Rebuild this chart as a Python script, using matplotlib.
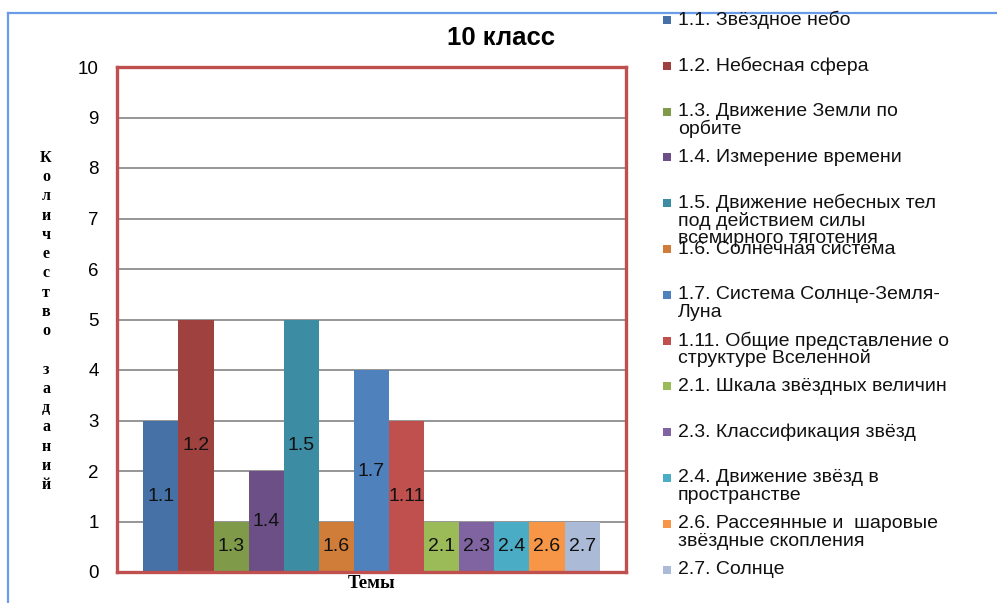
import matplotlib
matplotlib.use("Agg")
import matplotlib.pyplot as plt
from matplotlib.lines import Line2D
from matplotlib.patches import Rectangle

# ---- data ----
categories = ["1.1", "1.2", "1.3", "1.4", "1.5", "1.6", "1.7", "1.11",
              "2.1", "2.3", "2.4", "2.6", "2.7"]
values = [3, 5, 1, 2, 5, 1, 4, 3, 1, 1, 1, 1, 1]
legend_labels = [
    "1.1. Звёздное небо",
    "1.2. Небесная сфера",
    "1.3. Движение Земли по\nорбите",
    "1.4. Измерение времени",
    "1.5. Движение небесных тел\nпод действием силы\nвсемирного тяготения",
    "1.6. Солнечная система",
    "1.7. Система Солнце-Земля-\nЛуна",
    "1.11. Общие представление о\nструктуре Вселенной",
    "2.1. Шкала звёздных величин",
    "2.3. Классификация звёзд",
    "2.4. Движение звёзд в\nпространстве",
    "2.6. Рассеянные и  шаровые\nзвёздные скопления",
    "2.7. Солнце",
]
yticks = list(range(0, 11))
title = "10 класс"
xlabel = "Темы"
ylabel = "Количество заданий"

colors = ["#4571A6", "#9F413E", "#7F9B4A", "#6B4F86", "#3C8CA4", "#D07D39",
          "#4F81BD", "#C0504D", "#9BBB59", "#8064A2", "#4BACC6", "#F79646",
          "#AABAD7"]

W, H = 997, 603
fig = plt.figure(figsize=(W / 100, H / 100), dpi=100)
plt.rcParams['font.family'] = ['Liberation Sans', 'DejaVu Sans']

def fx(px):
    return px / W

def fy(py):
    return 1 - py / H

# outer blue frame (top and left)
fig.add_artist(Line2D([fx(8), 1.0], [fy(13), fy(13)], color="#6A9BE8", lw=1.6))
fig.add_artist(Line2D([fx(8), fx(8)], [fy(13), 0.0], color="#6A9BE8", lw=1.6))

left, right, top, bottom = 117, 626, 67, 572
ax = fig.add_axes([fx(left), fy(bottom), fx(right - left), (bottom - top) / H])

x = list(range(len(values)))
bars = ax.bar(x, values, width=1.0, color=colors, edgecolor="none", zorder=3)
ax.bar_label(bars, labels=categories, label_type="center", fontsize=14,
             color="#111111")

ax.set_xlim(-1.25, len(values) - 1 + 1.25)
ax.set_ylim(0, 10)
ax.set_yticks(yticks)
ax.set_yticklabels([str(t) for t in yticks], fontsize=13.5)
ax.set_xticks([])
ax.tick_params(axis="y", length=0, pad=13)
ax.yaxis.grid(True, color="#969696", lw=1.4, zorder=0)
ax.set_axisbelow(True)
for s in ax.spines.values():
    s.set_color("#C0504D")
    s.set_linewidth(2.4)
    s.set_zorder(5)

# title and axis labels
fig.text(fx(501), fy(38), title, ha="center", va="center", fontsize=18.5,
         fontweight="bold")
fig.text(fx(372), fy(583), xlabel, ha="center", va="center", fontsize=13.5,
         fontweight="bold", family="Liberation Serif")
ylab_chars = list(ylabel)
y0 = 158
step = (485 - 158) / (len(ylab_chars) - 1)
for i, ch in enumerate(ylab_chars):
    if ch.strip():
        fig.text(fx(46), fy(y0 + i * step), ch, ha="center", va="center",
                 fontsize=11.5, fontweight="bold", family="Liberation Serif")

# legend (manual)
leg_y0, leg_step, line_step = 20, 45.8, 17.5
for i, (lab, c) in enumerate(zip(legend_labels, colors)):
    yc = leg_y0 + i * leg_step
    fig.add_artist(Rectangle((fx(663), fy(yc + 4)), fx(8), 8 / H,
                             facecolor=c, edgecolor="none"))
    for j, line in enumerate(lab.split("\n")):
        fig.text(fx(678), fy(yc + j * line_step), line, ha="left",
                 va="center", fontsize=14, color="#111111")

fig.savefig("out.png", dpi=100)
